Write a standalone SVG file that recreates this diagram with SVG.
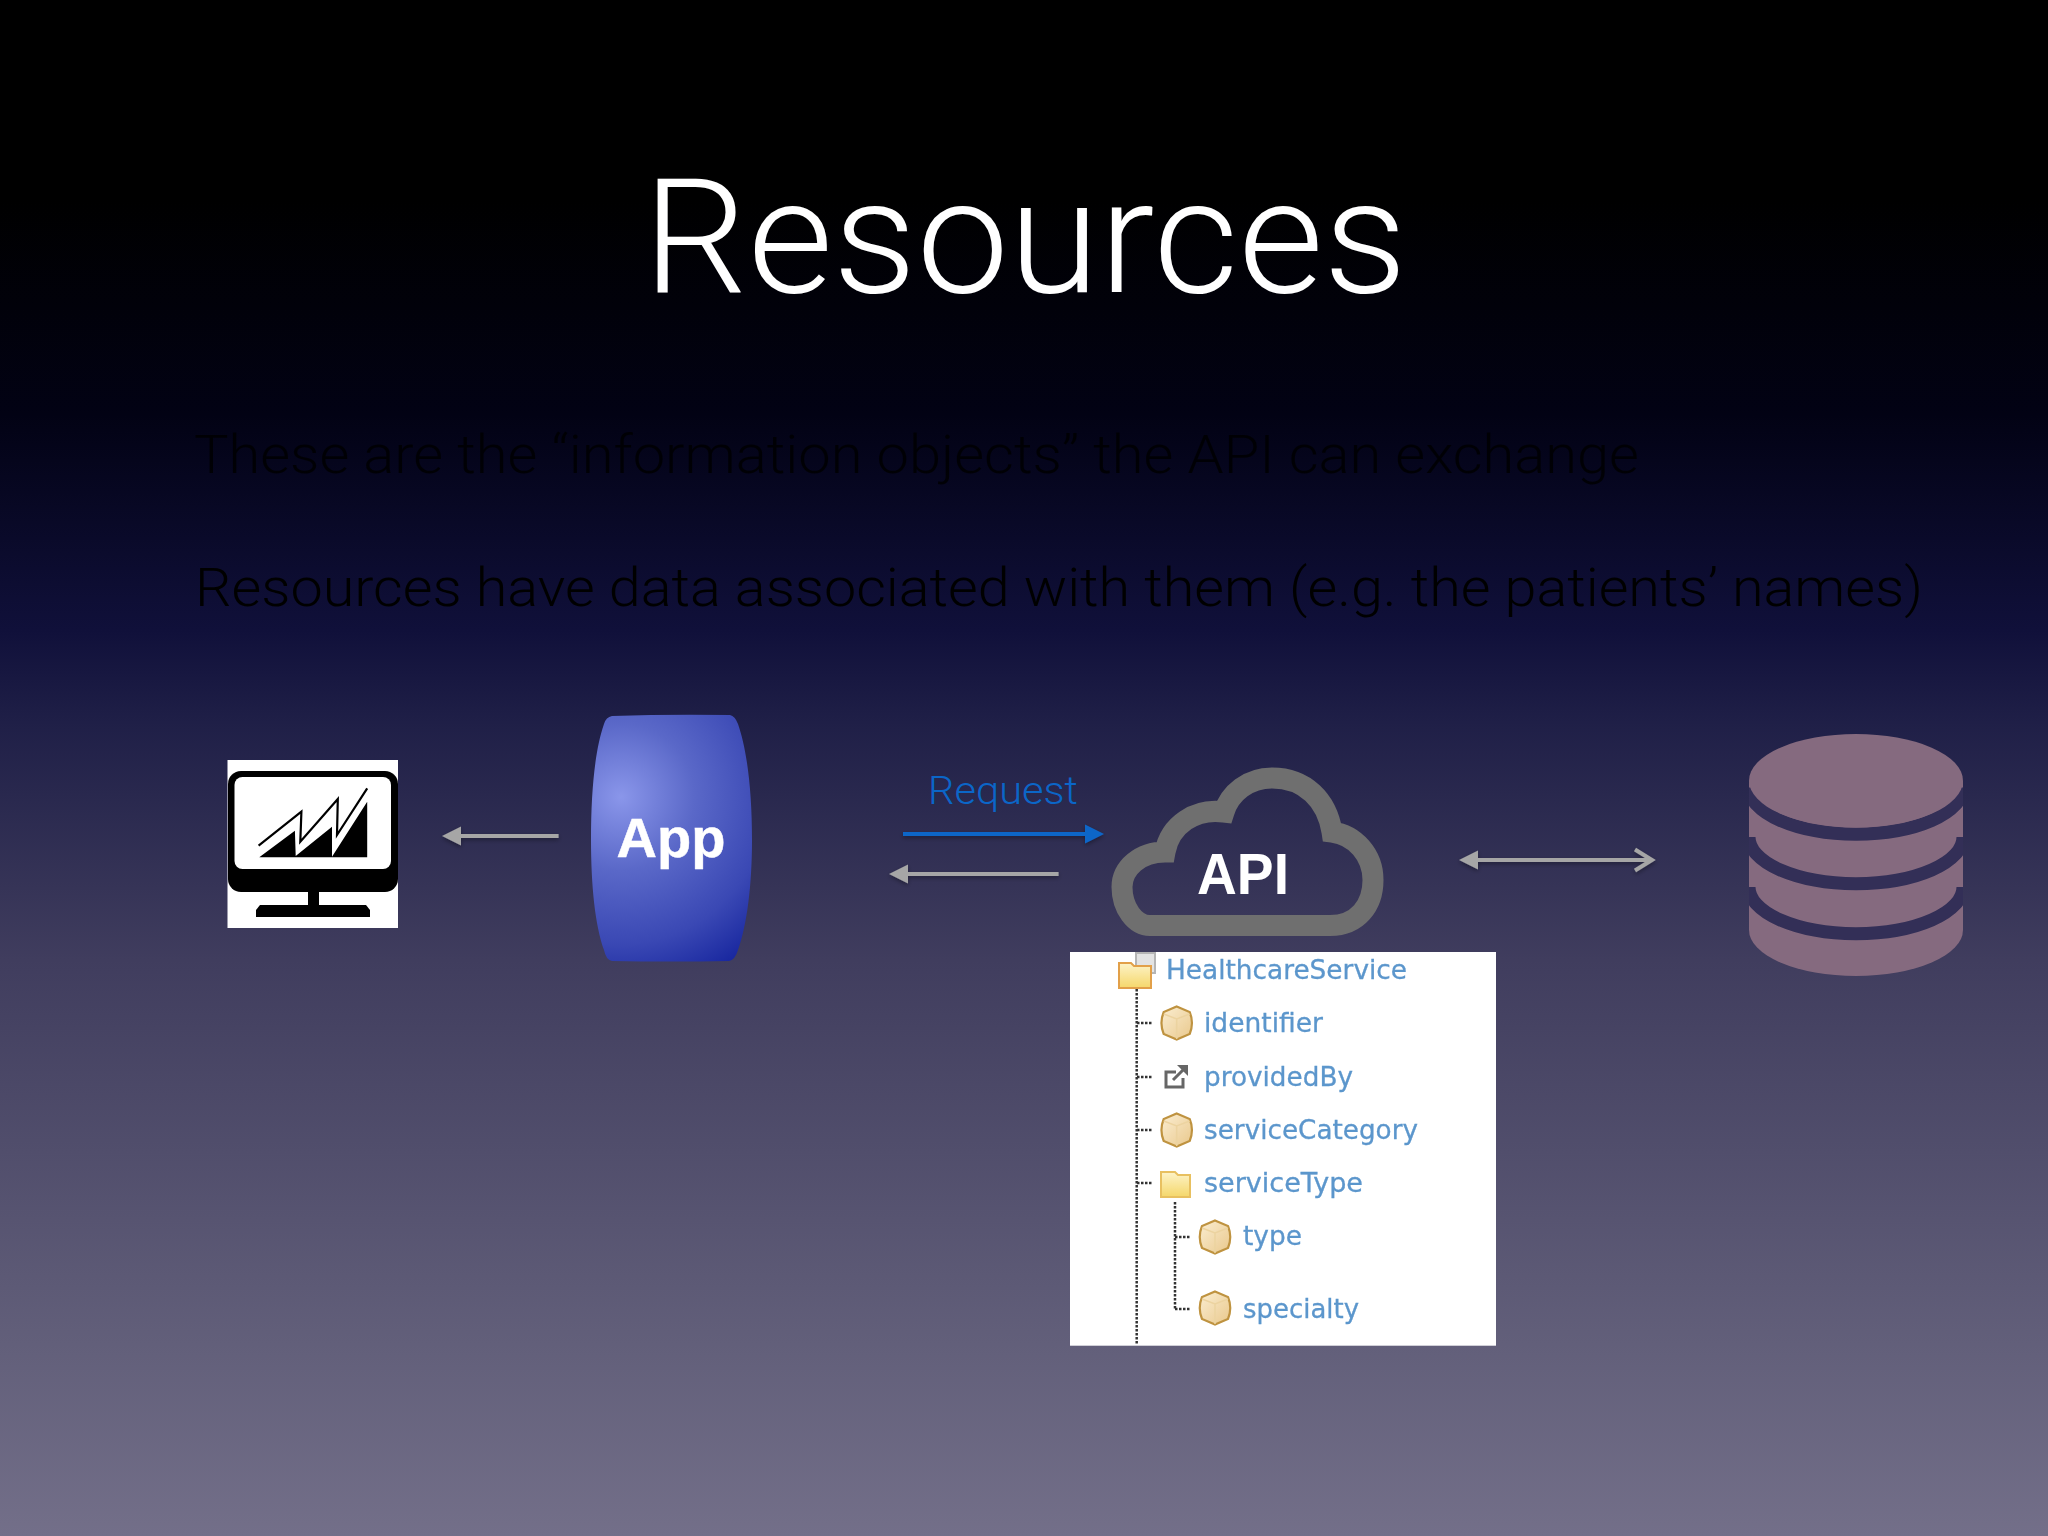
<svg xmlns="http://www.w3.org/2000/svg" xmlns:xlink="http://www.w3.org/1999/xlink" width="2048" height="1536" viewBox="0 0 2048 1536">
<defs>
<linearGradient id="bg" x1="0" y1="0" x2="0" y2="1">
<stop offset="0" stop-color="#000000"/><stop offset="0.13" stop-color="#000000"/><stop offset="0.27" stop-color="#020214"/><stop offset="0.41" stop-color="#10103a"/><stop offset="0.47" stop-color="#1f1f47"/><stop offset="0.625" stop-color="#403d5e"/><stop offset="0.875" stop-color="#625f7a"/><stop offset="1" stop-color="#736f89"/>
</linearGradient>
<radialGradient id="appFill" gradientUnits="userSpaceOnUse" cx="621" cy="797" r="210">
<stop offset="0" stop-color="#8a96ea"/><stop offset="0.35" stop-color="#5a68c8"/><stop offset="0.7" stop-color="#3a48b4"/><stop offset="1" stop-color="#101f9a"/>
</radialGradient>
<linearGradient id="cubeFill" x1="0" y1="0" x2="1" y2="1"><stop offset="0" stop-color="#fbeed2"/><stop offset="1" stop-color="#e9c88c"/></linearGradient>
<linearGradient id="folderFill" x1="0" y1="0" x2="0" y2="1"><stop offset="0" stop-color="#fdf3c8"/><stop offset="1" stop-color="#f5d76a"/></linearGradient>
<marker id="head" markerUnits="userSpaceOnUse" markerWidth="22" markerHeight="22" viewBox="0 0 22 22" refX="2" refY="11" orient="auto-start-reverse"><path d="M0 1.5 L19 11 L0 20.5 Z" fill="#a6a6a6"/></marker>
<marker id="headBlue" markerUnits="userSpaceOnUse" markerWidth="22" markerHeight="22" viewBox="0 0 22 22" refX="2" refY="11" orient="auto"><path d="M0 1.5 L19 11 L0 20.5 Z" fill="#0b66c8"/></marker>
<marker id="open" markerUnits="userSpaceOnUse" markerWidth="24" markerHeight="26" viewBox="0 0 24 26" refX="18" refY="13" orient="auto"><path d="M2 2.5 L19 13 L2 23.5" fill="none" stroke="#a6a6a6" stroke-width="4"/></marker>
<filter id="shadow" x="-20%" y="-200%" width="140%" height="500%"><feDropShadow dx="0" dy="2" stdDeviation="2" flood-color="#000000" flood-opacity="0.35"/></filter>
<filter id="soft" x="-5%" y="-5%" width="110%" height="110%"><feGaussianBlur stdDeviation="0.7"/></filter>
<clipPath id="dbClip"><path d="M1749 780 H1963 V930 A107 46 0 0 1 1749 930 Z"/></clipPath>
<g id="cube"><path d="M0 -16.5 L13 -11 Q17.5 0 13 11 L0 16.5 L-13 11 Q-17.5 0 -13 -11 Z" fill="url(#cubeFill)" stroke="#bf9340" stroke-width="2.2"/><path d="M-13 -9 L0 -4 L13 -9 M0 -4 V16" fill="none" stroke="#ecd3a0" stroke-width="1.5"/></g>
</defs>
<style>
.title{font-family:"Roboto","Liberation Sans",sans-serif;font-weight:300;fill:#ffffff}
.body{font-family:"Roboto","Liberation Sans",sans-serif;font-weight:300;fill:#000000}
.req{font-family:"Roboto","Liberation Sans",sans-serif;font-weight:300;fill:#0b66c8}
.bold{font-family:"Liberation Sans",Arial,sans-serif;font-weight:700;fill:#ffffff}
.tree{font-family:"DejaVu Sans",Verdana,sans-serif;font-size:26px;fill:#5b96cc;stroke:#5b96cc;stroke-width:0.3}
.dot{fill:none;stroke:#333333;stroke-width:2.5;stroke-dasharray:2.5 1.5}
.arrow{fill:none;stroke:#a6a6a6;stroke-width:4}
</style>
<rect width="2048" height="1536" fill="url(#bg)"/>
<text id="title" class="title" x="643" y="292" font-size="160" textLength="764" lengthAdjust="spacingAndGlyphs">Resources</text>
<text id="line1" class="body" x="194" y="473" font-size="54" textLength="1445" lengthAdjust="spacingAndGlyphs" opacity="0.8">These are the “information objects” the API can exchange</text>
<text id="line2" class="body" x="195" y="606" font-size="54" textLength="1728" lengthAdjust="spacingAndGlyphs">Resources have data associated with them (e.g. the patients’ names)</text>

<g id="monitor">
<rect x="227.5" y="760" width="170.5" height="168" fill="#ffffff"/>
<rect x="228" y="771" width="170" height="121" rx="13" fill="#000000"/>
<rect x="234.5" y="777" width="156.5" height="92" rx="8" fill="#ffffff"/>
<rect x="308" y="890" width="11" height="16" fill="#000000"/>
<path d="M260 905 H366 L370 910 V917 H256 V910 Z" fill="#000000"/>
<path d="M259.3 857.3 L294.9 830.7 L295.7 856 L332 826.7 L332 856.7 L367.2 801.7 V857.3 Z" fill="#000000"/>
<path d="M258.6 845.7 L301.4 811.7 L300.3 841.7 L337.8 799 L337 835 L367.2 788.3" fill="none" stroke="#000000" stroke-width="2.2"/>
</g>

<g id="app">
<path d="M612 716 Q670 714 730 715 Q735 716 738 724 C747 750 752 790 752 840 C752 885 747 925 738 950 Q735 960 729 961 Q670 962 612 961 Q606 960 604 950 C595 925 591 885 591 840 C591 790 595 750 604 724 Q606 717 612 716 Z" fill="url(#appFill)"/>
<text class="bold" x="671" y="857" font-size="56" text-anchor="middle" stroke="#ffffff" stroke-width="0.5">App</text>
</g>

<g id="api">
<path d="M1150 925.5 H1330 C1358 925.5 1373 905 1373 880 C1373 855 1355 835 1332 832 C1327 800 1305 778 1272 778 C1248 778 1230 793 1224 812 C1195 808 1170 825 1165 852 C1140 852 1122 868 1122 887 C1122 908 1135 925.5 1150 925.5 Z" fill="none" stroke="#6f6f6f" stroke-width="21" stroke-linejoin="miter" stroke-miterlimit="6"/>
<text class="bold" x="1197" y="894" font-size="58" textLength="92" lengthAdjust="spacingAndGlyphs">API</text>
</g>

<g id="database">
<path d="M1749 781 V930 A107 46 0 0 0 1963 930 V781 Z" fill="#856a7f"/>
<g clip-path="url(#dbClip)" fill="none" stroke="#332f57" stroke-width="13">
<path d="M1749 787.5 A107 46.7 0 0 0 1963 787.5"/>
<path d="M1749 837 A107 46.7 0 0 0 1963 837"/>
<path d="M1749 887 A107 46.7 0 0 0 1963 887"/>
</g>
<ellipse cx="1856" cy="780.7" rx="107" ry="46.7" fill="#856a7f"/>
</g>

<g id="connectors" filter="url(#shadow)">
<line class="arrow" x1="558.6" y1="836" x2="459" y2="836" marker-end="url(#head)"/>
<line x1="903" y1="834" x2="1087" y2="834" fill="none" stroke="#0b66c8" stroke-width="4" marker-end="url(#headBlue)"/>
<line class="arrow" x1="1058.6" y1="874" x2="906" y2="874" marker-end="url(#head)"/>
<line class="arrow" x1="1650" y1="860" x2="1476" y2="860" marker-end="url(#head)"/>
<line class="arrow" x1="1476" y1="860" x2="1651" y2="860" marker-end="url(#open)"/>
</g>
<text id="request" class="req" x="928" y="804" font-size="39" textLength="150" lengthAdjust="spacingAndGlyphs">Request</text>

<g id="tree-panel">
<rect x="1070" y="952" width="426" height="393.7" fill="#ffffff"/>
<g filter="url(#soft)">
<path class="dot" d="M1136.7 989 V1345 M1137 1023 H1153 M1137 1077 H1153 M1137 1130 H1153 M1137 1183 H1153 M1175 1202 V1309 M1175 1237 H1191 M1175 1309 H1191"/>
<rect x="1136" y="953" width="19" height="20" fill="#e3e3e3" stroke="#b5b5b5" stroke-width="2"/>
<path d="M1119 963 H1131 L1134 966 H1151 V988 H1119 Z" fill="url(#folderFill)" stroke="#e2a04a" stroke-width="2"/>
<path d="M1161 1172 H1175 L1178 1175 H1190 V1197 H1161 Z" fill="url(#folderFill)" stroke="#e8c060" stroke-width="2"/>
<use xlink:href="#cube" href="#cube" x="1176.7" y="1023"/>
<use xlink:href="#cube" href="#cube" x="1176.7" y="1130"/>
<use xlink:href="#cube" href="#cube" x="1215" y="1237"/>
<use xlink:href="#cube" href="#cube" x="1215" y="1308"/>
<path d="M1176 1072 H1166 V1087 H1183 V1078" fill="none" stroke="#666666" stroke-width="3"/>
<path d="M1173 1080 L1183 1070" fill="none" stroke="#666666" stroke-width="3"/>
<path d="M1177 1065 H1188 V1076 Z" fill="#666666"/>
<text class="tree" x="1166" y="979" textLength="241" lengthAdjust="spacingAndGlyphs">HealthcareService</text>
<text class="tree" x="1204" y="1032" textLength="119" lengthAdjust="spacingAndGlyphs">identifier</text>
<text class="tree" x="1204" y="1085.5" textLength="149" lengthAdjust="spacingAndGlyphs">providedBy</text>
<text class="tree" x="1204" y="1138.5" textLength="214" lengthAdjust="spacingAndGlyphs">serviceCategory</text>
<text class="tree" x="1204" y="1192" textLength="159" lengthAdjust="spacingAndGlyphs">serviceType</text>
<text class="tree" x="1243" y="1245" textLength="59" lengthAdjust="spacingAndGlyphs">type</text>
<text class="tree" x="1243" y="1317.5" textLength="116" lengthAdjust="spacingAndGlyphs">specialty</text>
</g>
</g>
</svg>
